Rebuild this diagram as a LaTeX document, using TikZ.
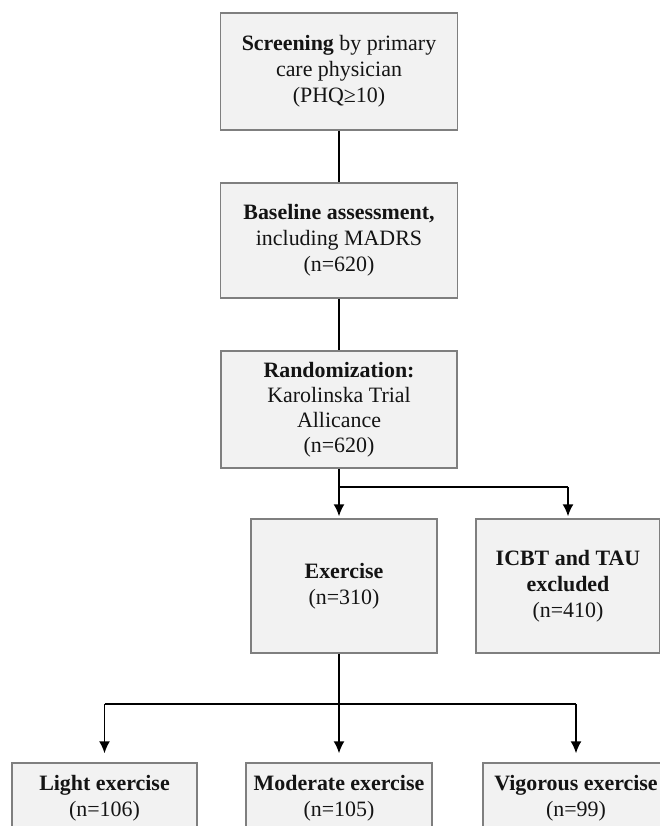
\documentclass[tikz,border=0pt]{standalone}
\usepackage{fontspec}
\setmainfont{Liberation Serif}
\usetikzlibrary{arrows.meta}
\definecolor{boxfill}{HTML}{F2F2F2}
\definecolor{boxline}{HTML}{7F7F7F}
\definecolor{txt}{HTML}{141414}
\tikzset{
  box/.style={draw=boxline, fill=boxfill, line width=1.4bp, align=center,
    text=txt, font=\fontsize{22}{26}\selectfont, inner sep=0pt},
  link/.style={line width=1.6bp, black},
  >={Latex[length=12bp,width=11bp]},
}

\begin{document}
\begin{tikzpicture}[x=1bp,y=1bp]
\useasboundingbox (0,0) rectangle (660,826);
\clip (0,0) rectangle (660,826);

\node[box, minimum width=237bp, minimum height=117bp] (A1) at (339,754.5) {\textbf{Screening} by primary\\care physician\\(PHQ≥10)};
\node[box, minimum width=237bp, minimum height=115bp] (A2) at (339,585.5) {\textbf{Baseline assessment,}\\including MADRS\\(n=620)};
\node[box, minimum width=236bp, minimum height=117bp, font=\fontsize{22}{25}\selectfont] (A3) at (339,416.5) {\textbf{Randomization:}\\Karolinska Trial\\Allicance\\(n=620)};

\node[box, minimum width=186bp, minimum height=134bp] (B1) at (344,240) {\textbf{Exercise}\\(n=310)};
\node[box, minimum width=184bp, minimum height=134bp] (B2) at (568,240) {\textbf{ICBT and TAU}\\\textbf{excluded}\\(n=410)};

\node[box, minimum width=185bp, minimum height=70bp] (C1) at (104.5,28) {\textbf{Light exercise}\\(n=106)};
\node[box, minimum width=186bp, minimum height=70bp] (C2) at (339,28) {\textbf{Moderate exercise}\\(n=105)};
\node[box, minimum width=186bp, minimum height=70bp] (C3) at (576,28) {\textbf{Vigorous exercise}\\(n=99)};

\coordinate (R) at (339,339);
\coordinate (E) at (339,122);

\draw[link] (A1) -- (A2);
\draw[link] (A2) -- (A3);

\draw[link] (A3.south) -- (R) -- (R -| B2.north);
\draw[link, ->, shorten >=2bp] (R) -- (R |- B1.north);
\draw[link, ->, shorten >=2bp] (R -| B2.north) -- (B2.north);

\draw[link] (R |- B1.south) -- (E);
\draw[link] (E -| C1.north) -- (E -| C3.north);
\draw[link, ->, shorten >=9bp] (E -| C1.north) -- (C1.north);
\draw[link, ->, shorten >=9bp] (E) -- (E |- C2.north);
\draw[link, ->, shorten >=9bp] (E -| C3.north) -- (C3.north);
\end{tikzpicture}
\end{document}
